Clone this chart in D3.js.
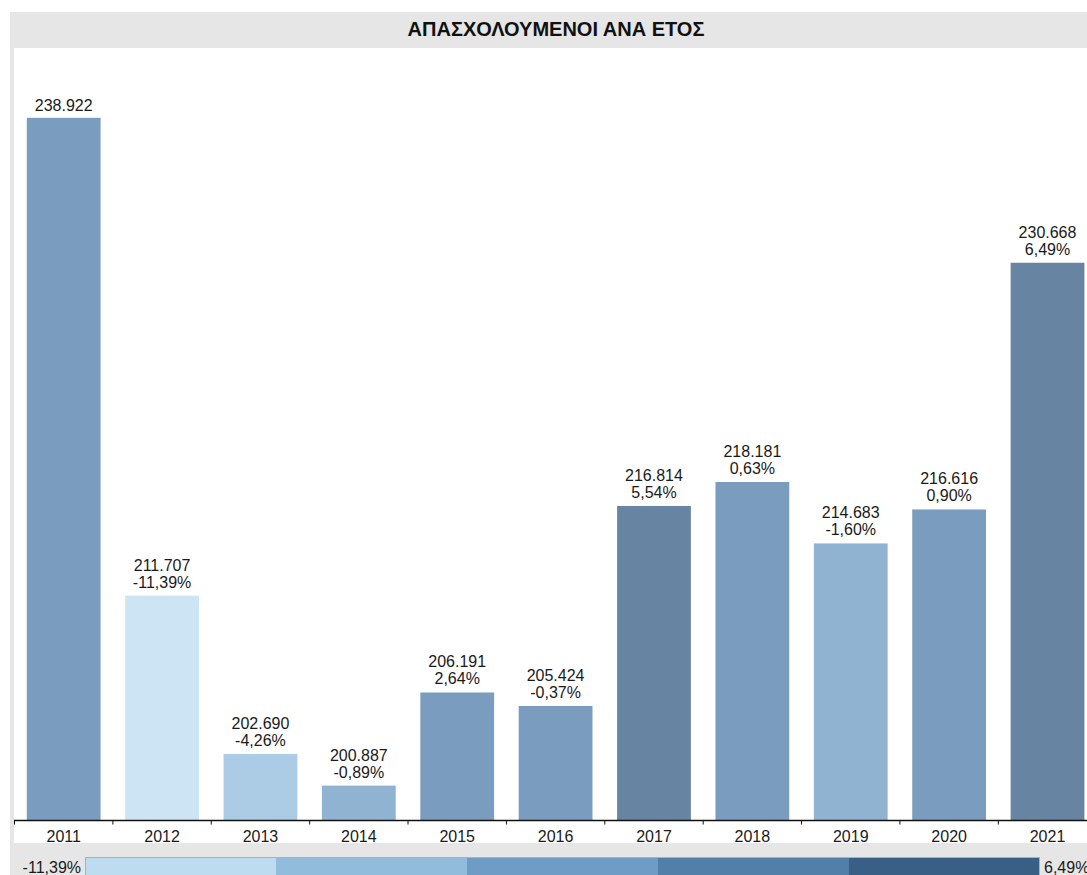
<!DOCTYPE html>
<html lang="el">
<head>
    <meta charset="UTF-8">
    <title>ΑΠΑΣΧΟΛΟΥΜΕΝΟΙ ΑΝΑ ΕΤΟΣ</title>
    <style>
        body {
            margin: 0;
            background: #ffffff;
            font-family: Arial, "Liberation Sans", sans-serif;
            overflow: hidden;
        }
    </style>
</head>
<body>
    <div id="chart"></div>

    <script src="https://d3js.org/d3.v7.min.js"></script>
    <script>
        // Data
        const years = ["2011", "2012", "2013", "2014", "2015", "2016", "2017", "2018", "2019", "2020", "2021"];
        const employed = [238922, 211707, 202690, 200887, 206191, 205424, 216814, 218181, 214683, 216616, 230668];
        const changePct = [null, -11.39, -4.26, -0.89, 2.64, -0.37, 5.54, 0.63, -1.60, 0.90, 6.49];
        const legendColors = ["#bddcf0", "#92bcdc", "#6f9cc4", "#527eaa", "#3a5f87"];

        const W = 1087, H = 875;
        const plot = { left: 14, top: 48, right: 1087, bottom: 843 };
        const baseY = 820.5;

        const greek = d3.formatLocale({ decimal: ",", thousands: ".", grouping: [3], currency: ["", "€"], minus: "-" });
        const fmtNum = greek.format(",d");
        const fmtPct = greek.format(".2f");

        const svg = d3.select("#chart")
            .append("svg")
            .attr("width", W)
            .attr("height", H);

        // Panel background
        svg.append("rect")
            .attr("x", 10).attr("y", 12)
            .attr("width", W).attr("height", H)
            .attr("fill", "#e6e6e6");

        svg.append("rect")
            .attr("x", plot.left).attr("y", plot.top)
            .attr("width", plot.right - plot.left + 20)
            .attr("height", plot.bottom - plot.top)
            .attr("fill", "#ffffff");

        // Title
        svg.append("text")
            .attr("x", 556).attr("y", 36)
            .attr("text-anchor", "middle")
            .style("font-size", "20px")
            .style("font-weight", "bold")
            .style("fill", "#111")
            .text("ΑΠΑΣΧΟΛΟΥΜΕΝΟΙ ΑΝΑ ΕΤΟΣ");

        // Scales
        const x = d3.scaleBand()
            .domain(years)
            .range([14.5, 1096.7])
            .paddingInner(0.25)
            .paddingOuter(0.125);

        const y = d3.scaleLinear()
            .domain([198900, 242900])
            .range([baseY, plot.top]);

        const color = d3.scaleQuantize()
            .domain([-11.39, 6.49])
            .range(legendColors);

        const data = years.map((yr, i) => ({ year: yr, value: employed[i], pct: changePct[i] }));

        // Bars
        svg.append("g")
            .selectAll("rect")
            .data(data)
            .enter()
            .append("rect")
            .attr("x", d => x(d.year))
            .attr("y", d => y(d.value))
            .attr("width", x.bandwidth())
            .attr("height", d => baseY - y(d.value))
            .attr("fill", d => color(d.pct === null ? 0 : d.pct))
            .attr("fill-opacity", 0.77);

        // Value labels
        const labels = svg.append("g")
            .selectAll("text")
            .data(data)
            .enter()
            .append("text")
            .attr("text-anchor", "middle")
            .style("font-size", "16px")
            .style("fill", "#1a1a1a");

        labels.each(function(d) {
            const t = d3.select(this);
            const cx = x(d.year) + x.bandwidth() / 2;
            const top = y(d.value);
            if (d.pct === null) {
                t.append("tspan").attr("x", cx).attr("y", top - 7).text(fmtNum(d.value));
            } else {
                t.append("tspan").attr("x", cx).attr("y", top - 25).text(fmtNum(d.value));
                t.append("tspan").attr("x", cx).attr("y", top - 8).text(fmtPct(d.pct) + "%");
            }
        });

        // X axis
        const axis = svg.append("g")
            .attr("transform", `translate(0, ${baseY})`)
            .call(d3.axisBottom(x).tickSize(0).tickPadding(6));
        axis.select(".domain").remove();
        axis.selectAll("text")
            .style("font-size", "16px")
            .style("font-family", "Arial, 'Liberation Sans', sans-serif")
            .style("fill", "#1a1a1a")
            .attr("dy", "0.95em");

        svg.append("line")
            .attr("x1", plot.left).attr("x2", W)
            .attr("y1", baseY).attr("y2", baseY)
            .attr("stroke", "#111")
            .attr("stroke-width", 1.3);

        // boundary ticks between the bands
        svg.append("g")
            .selectAll("line")
            .data(years)
            .enter()
            .append("line")
            .attr("x1", d => x(d) + x.bandwidth() / 2 - x.step() / 2)
            .attr("x2", d => x(d) + x.bandwidth() / 2 - x.step() / 2)
            .attr("y1", baseY)
            .attr("y2", baseY + 4)
            .attr("stroke", "#111")
            .attr("stroke-width", 1);

        // Legend
        const legX = d3.scaleLinear().domain([0, legendColors.length]).range([85, 1040]);
        const legend = svg.append("g");
        legend.selectAll("rect")
            .data(legendColors)
            .enter()
            .append("rect")
            .attr("x", (d, i) => legX(i))
            .attr("y", 857)
            .attr("width", (d, i) => legX(i + 1) - legX(i))
            .attr("height", 20)
            .attr("fill", d => d);
        legend.append("rect")
            .attr("x", 85.5).attr("y", 857.5)
            .attr("width", 954).attr("height", 20)
            .attr("fill", "none")
            .attr("stroke", "#b0b0b0");

        legend.append("text")
            .attr("x", 81).attr("y", 873)
            .attr("text-anchor", "end")
            .style("font-size", "16px")
            .style("fill", "#1a1a1a")
            .text(fmtPct(d3.min(changePct)) + "%");
        legend.append("text")
            .attr("x", 1044).attr("y", 873)
            .style("font-size", "16px")
            .style("fill", "#1a1a1a")
            .text(fmtPct(d3.max(changePct)) + "%");
    </script>
</body>
</html>
